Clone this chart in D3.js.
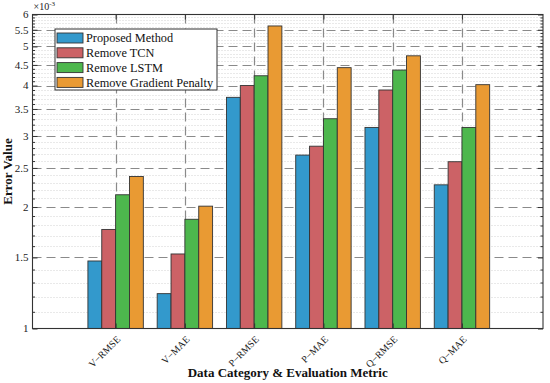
<!DOCTYPE html>
<html lang="en">
<head>
    <meta charset="UTF-8">
    <title>Ablation Error Bars</title>
    <script src="https://d3js.org/d3.v7.min.js"></script>
    <style>
        body { margin: 0; background: #fff; }
    </style>
</head>
<body>
    <div id="chart"></div>
    <script>
        // data (values in units of 1e-3)
        var categories = ["V\u2212RMSE", "V\u2212MAE", "P\u2212RMSE", "P\u2212MAE", "Q\u2212RMSE", "Q\u2212MAE"];
        var seriesNames = ["Proposed Method", "Remove TCN", "Remove LSTM", "Remove Gradient Penalty"];
        var proposed   = [1.47, 1.22, 3.74, 2.69, 3.15, 2.27];
        var removeTCN  = [1.76, 1.53, 4.00, 2.83, 3.90, 2.59];
        var removeLSTM = [2.145, 1.865, 4.23, 3.31, 4.37, 3.15];
        var removeGP   = [2.38, 2.01, 5.62, 4.43, 4.74, 4.02];
        var yTicks = [1, 1.5, 2, 2.5, 3, 3.5, 4, 4.5, 5, 5.5, 6];
        var colors = ["#3399cc", "#cc6266", "#4db74d", "#e99a33"];

        var series = [proposed, removeTCN, removeLSTM, removeGP];

        var W = 550, H = 383;
        var plot = {left: 32.5, right: 543, top: 14.5, bottom: 328.5};
        var serif = "'Liberation Serif', 'Times New Roman', Times, serif";

        var svg = d3.select("#chart").append("svg")
            .attr("width", W).attr("height", H)
            .attr("font-family", serif)
            .style("font-family", serif);

        var x = d3.scaleLinear().domain([-0.2, 7.17]).range([plot.left, plot.right]);
        var y = d3.scaleLog().domain([1, 6]).range([plot.bottom, plot.top]);

        var catX = function(i) { return x(i + 1); };
        var groupW = 0.8;
        var barW = x(groupW / 4) - x(0);

        // minor y values every 0.1
        var minor = d3.range(11, 60).map(function(v) { return v / 10; })
            .filter(function(v) { return yTicks.indexOf(v) < 0; });

        var grid = svg.append("g");
        grid.selectAll(".minor").data(minor).enter().append("line")
            .attr("x1", plot.left).attr("x2", plot.right)
            .attr("y1", function(d) { return Math.round(y(d)) + 0.5; })
            .attr("y2", function(d) { return Math.round(y(d)) + 0.5; })
            .attr("stroke", "#c8c8c8").attr("stroke-width", 0.8)
            .attr("stroke-dasharray", "1,2");

        grid.selectAll(".major").data(yTicks.slice(1, -1)).enter().append("line")
            .attr("x1", plot.left).attr("x2", plot.right)
            .attr("y1", function(d) { return Math.round(y(d)) + 0.5; })
            .attr("y2", function(d) { return Math.round(y(d)) + 0.5; })
            .attr("stroke", "#8a8a8a").attr("stroke-width", 1.2)
            .attr("stroke-dasharray", "9,5");

        grid.selectAll(".vmajor").data(categories).enter().append("line")
            .attr("x1", function(d, i) { return Math.round(catX(i)) + 0.5; })
            .attr("x2", function(d, i) { return Math.round(catX(i)) + 0.5; })
            .attr("y1", plot.top).attr("y2", plot.bottom)
            .attr("stroke", "#8a8a8a").attr("stroke-width", 1.2)
            .attr("stroke-dasharray", "9,5");

        // bars
        series.forEach(function(vals, s) {
            svg.append("g").selectAll("rect").data(vals).enter().append("rect")
                .attr("x", function(d, i) { return catX(i) - (x(groupW / 2) - x(0)) + s * barW; })
                .attr("y", function(d) { return y(d); })
                .attr("width", barW)
                .attr("height", function(d) { return plot.bottom - y(d); })
                .attr("fill", colors[s])
                .attr("stroke", "#333").attr("stroke-width", 0.9);
        });

        // axes box with inward ticks
        var axisCol = "#333";
        var yAxisL = d3.axisRight(y).tickValues(yTicks).tickSize(5).tickFormat("");
        var yAxisR = d3.axisLeft(y).tickValues(yTicks).tickSize(5).tickFormat("");
        var yMinorL = d3.axisRight(y).tickValues(minor).tickSize(2.5).tickFormat("");
        var yMinorR = d3.axisLeft(y).tickValues(minor).tickSize(2.5).tickFormat("");
        var xTicks = categories.map(function(d, i) { return i + 1; });
        var xAxisB = d3.axisTop(x).tickValues(xTicks).tickSize(5).tickFormat("");
        var xAxisT = d3.axisBottom(x).tickValues(xTicks).tickSize(5).tickFormat("");

        [
            [yAxisL, "translate(" + plot.left + ",0)"],
            [yMinorL, "translate(" + plot.left + ",0)"],
            [yAxisR, "translate(" + plot.right + ",0)"],
            [yMinorR, "translate(" + plot.right + ",0)"],
            [xAxisB, "translate(0," + plot.bottom + ")"],
            [xAxisT, "translate(0," + plot.top + ")"]
        ].forEach(function(a) {
            var g = svg.append("g").attr("transform", a[1]).call(a[0]);
            g.select(".domain").remove();
            g.selectAll("line").attr("stroke", axisCol).attr("stroke-width", 1);
        });

        svg.append("rect")
            .attr("x", plot.left).attr("y", plot.top)
            .attr("width", plot.right - plot.left).attr("height", plot.bottom - plot.top)
            .attr("fill", "none").attr("stroke", axisCol).attr("stroke-width", 1.1);

        // y tick labels
        svg.append("g").selectAll("text").data(yTicks).enter().append("text")
            .attr("x", plot.left - 4).attr("y", function(d) { return y(d); })
            .attr("dy", "0.35em").attr("text-anchor", "end").attr("fill", "#222")
            .attr("font-size", 11).text(function(d) { return d; });

        // exponent label
        var ex = svg.append("text").attr("x", plot.left + 1).attr("y", 10)
            .attr("font-size", 10).attr("fill", "#222");
        ex.append("tspan").text("\u00d710");
        ex.append("tspan").attr("dy", -4).attr("font-size", 7).text("-3");

        // x tick labels
        svg.append("g").selectAll("text").data(categories).enter().append("text")
            .attr("transform", function(d, i) {
                return "translate(" + (catX(i) + 3) + "," + (plot.bottom + 9) + ") rotate(-45)";
            })
            .attr("text-anchor", "end").attr("dy", "0.35em").attr("fill", "#222")
            .attr("font-size", 10).text(function(d) { return d; });

        // axis titles
        svg.append("text")
            .attr("x", (plot.left + plot.right) / 2).attr("y", 377)
            .attr("text-anchor", "middle").attr("font-size", 13).attr("font-weight", "bold")
            .attr("fill", "#111")
            .text("Data Category & Evaluation Metric");
        svg.append("text")
            .attr("transform", "translate(12," + ((plot.top + plot.bottom) / 2) + ") rotate(-90)")
            .attr("text-anchor", "middle").attr("font-size", 13).attr("font-weight", "bold")
            .attr("fill", "#111")
            .text("Error Value");

        // legend
        var lg = svg.append("g").attr("transform", "translate(55,29)");
        lg.append("rect").attr("width", 162).attr("height", 61)
            .attr("fill", "#fff").attr("stroke", "#333").attr("stroke-width", 1);
        seriesNames.forEach(function(name, s) {
            var cy = 9 + s * 14.8;
            lg.append("rect").attr("x", 2).attr("y", cy - 5).attr("width", 26).attr("height", 10)
                .attr("fill", colors[s]).attr("stroke", "#333").attr("stroke-width", 0.9);
            lg.append("text").attr("x", 31).attr("y", cy).attr("dy", "0.35em")
                .attr("font-size", 12.3).attr("fill", "#111").text(name);
        });
    </script>
</body>
</html>
